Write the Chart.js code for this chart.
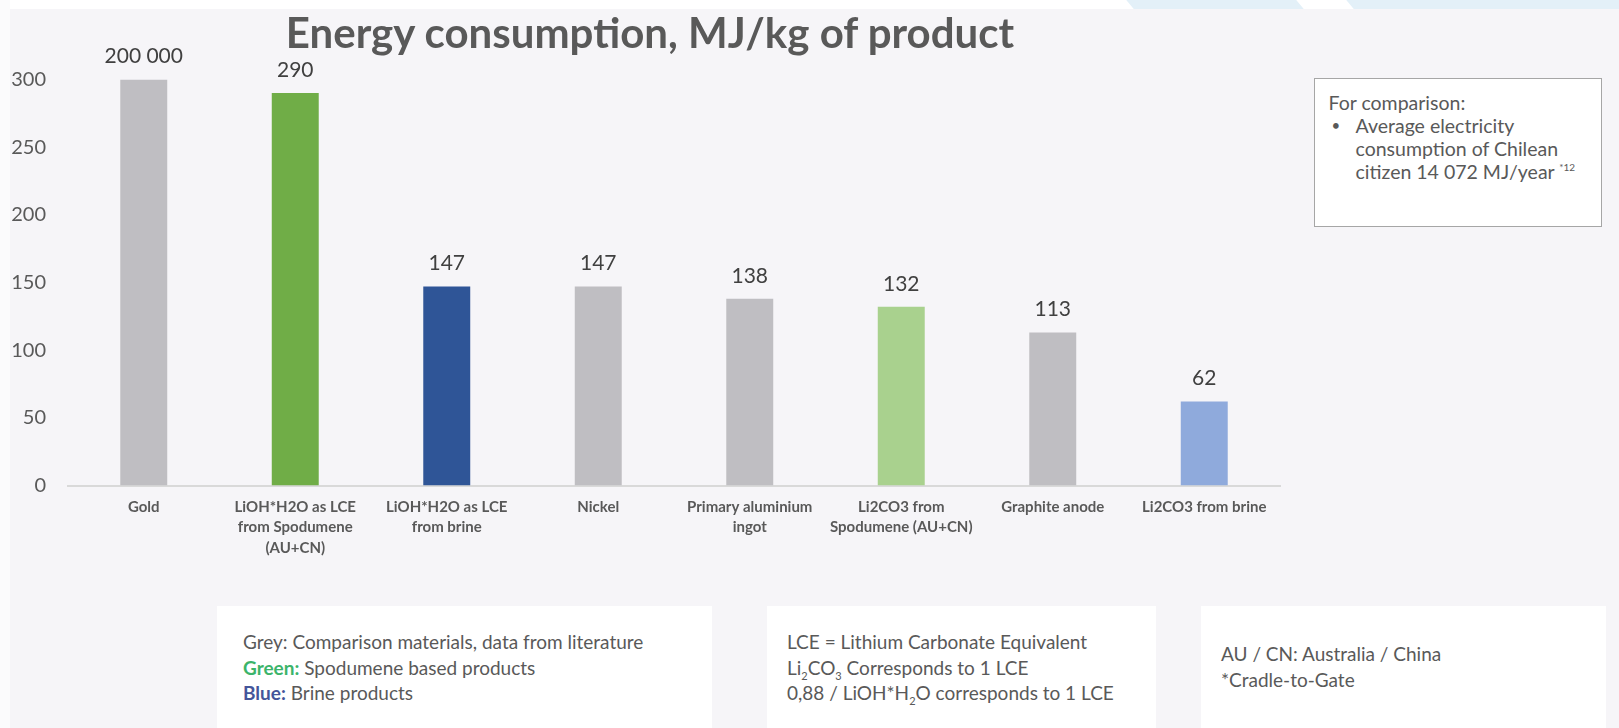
<!DOCTYPE html>
<html>
<head>
<meta charset="utf-8">
<script src="https://cdn.jsdelivr.net/npm/chart.js@4/dist/chart.umd.min.js"></script>
<style>
  html, body { margin: 0; padding: 0; }
  body { width: 1619px; height: 728px; position: relative; overflow: hidden; background: #f6f5f8; font-family: Lato, "Open Sans", sans-serif; color: #595959; }
  #topband { position: absolute; left: 0; top: 0; width: 1619px; height: 9px; background: #ffffff; }
  .deco { position: absolute; top: 0; height: 9px; background: #e3f0f8; transform: skewX(40deg); }
  #leftband { position: absolute; left: 0; top: 0; width: 10px; height: 728px; background: #fbfbfc; }
  #chartWrap { position: absolute; left: 0; top: 0; width: 1619px; height: 728px; }
  #title { position: absolute; left: 0; width: 1300px; top: 7px; text-align: center; font-size: 42px; line-height: 50px; font-weight: bold; color: #595959; }
  .box { position: absolute; background: #ffffff; font-size: 19px; line-height: 25.5px; color: #595959; }
  #compare { left: 1314px; top: 78px; width: 288px; height: 149px; border: 1.5px solid #a6a6a6; box-sizing: border-box; padding: 12px 6px 0 13.5px; font-size: 19.5px; line-height: 23px; }
  #compare ul { margin: 0; padding: 0 0 0 27px; }
  #compare li { list-style: none; position: relative; }
  #compare li::before { content: "\2022"; position: absolute; left: -24px; font-size: 15px; }
  sup { font-size: 10px; vertical-align: top; line-height: 14px; }
  sub { font-size: 11px; line-height: 0; }
  #note1 { left: 217px; top: 606px; width: 495px; height: 122px; padding: 23px 0 0 26px; box-sizing: border-box; }
  #note2 { left: 767px; top: 606px; width: 389px; height: 122px; padding: 23px 0 0 20px; box-sizing: border-box; }
  #note3 { left: 1201px; top: 606px; width: 405px; height: 122px; padding: 35px 0 0 20px; box-sizing: border-box; }
  .g { color: #3cb46a; font-weight: bold; }
  .b { color: #44559a; font-weight: bold; }
</style>
</head>
<body>
<div id="topband"></div>
<div class="deco" style="left:1130px;width:170px;"></div>
<div class="deco" style="left:1350px;width:300px;"></div>
<div id="leftband"></div>
<div id="chartWrap"><canvas id="energyChart" width="1619" height="728"></canvas></div>
<div id="title">Energy consumption, MJ/kg of product</div>
<div class="box" id="compare">
  For comparison:
  <ul><li>Average electricity<br>consumption of Chilean<br>citizen 14 072 MJ/year <sup>*12</sup></li></ul>
</div>
<div class="box" id="note1">
  Grey: Comparison materials, data from literature<br>
  <span class="g">Green:</span> Spodumene based products<br>
  <span class="b">Blue:</span> Brine products
</div>
<div class="box" id="note2">
  LCE = Lithium Carbonate Equivalent<br>
  Li<sub>2</sub>CO<sub>3</sub> Corresponds to 1 LCE<br>
  0,88 / LiOH*H<sub>2</sub>O corresponds to 1 LCE
</div>
<div class="box" id="note3">
  AU / CN: Australia / China<br>
  *Cradle-to-Gate
</div>
<script>
const categories = [
    ['Gold'],
    ['LiOH*H2O as LCE', 'from Spodumene', '(AU+CN)'],
    ['LiOH*H2O as LCE', 'from brine'],
    ['Nickel'],
    ['Primary aluminium', 'ingot'],
    ['Li2CO3 from', 'Spodumene (AU+CN)'],
    ['Graphite anode'],
    ['Li2CO3 from brine']
];
// gold is cut at the top of the axis, its real value is written above it
const energyValues = [300, 290, 147, 147, 138, 132, 113, 62];
const valueLabels = ['200 000', '290', '147', '147', '138', '132', '113', '62'];
const barColors = ['#bfbec2', '#70ad47', '#2f5597', '#bfbec2', '#bfbec2', '#a9d18e', '#bfbec2', '#8faadc'];
const yTicks = [0, 50, 100, 150, 200, 250, 300];

const valueLabelPlugin = {
    id: 'valueLabels',
    afterDatasetsDraw(chart) {
        const ctx = chart.ctx;
        const meta = chart.getDatasetMeta(0);
        ctx.save();
        ctx.font = '21px Lato, sans-serif';
        ctx.fillStyle = '#404040';
        ctx.textAlign = 'center';
        ctx.textBaseline = 'middle';
        meta.data.forEach((bar, i) => {
            ctx.fillText(valueLabels[i], bar.x, bar.y - 23);
        });
        ctx.restore();
    }
};

new Chart(document.getElementById('energyChart'), {
    type: 'bar',
    data: {
        labels: categories,
        datasets: [{
            label: 'Energy consumption, MJ/kg of product',
            data: energyValues,
            backgroundColor: barColors,
            barPercentage: 0.31,
            categoryPercentage: 1
        }]
    },
    options: {
        responsive: false,
        animation: false,
        layout: { padding: { left: 0, right: 339, top: 79.5, bottom: 0 } },
        plugins: {
            legend: { display: false },
            tooltip: { enabled: false }
        },
        scales: {
            x: {
                grid: { color: 'transparent', drawTicks: false },
                border: { display: true, color: '#d9d9d9', width: 2 },
                ticks: {
                    color: '#595959',
                    font: { family: 'Lato', size: 15, weight: 'bold', lineHeight: 1.34 },
                    padding: 12,
                    maxRotation: 0,
                    autoSkip: false
                },
                afterFit(scale) { scale.height = 242.5; }
            },
            y: {
                min: 0,
                max: 300,
                afterBuildTicks(scale) { scale.ticks = yTicks.map(v => ({ value: v })); },
                grid: { display: false },
                border: { display: false },
                ticks: {
                    color: '#595959',
                    font: { family: 'Lato', size: 20 },
                    padding: 14
                },
                afterFit(scale) { scale.width = 68; }
            }
        }
    },
    plugins: [valueLabelPlugin]
});
</script>
</body>
</html>
